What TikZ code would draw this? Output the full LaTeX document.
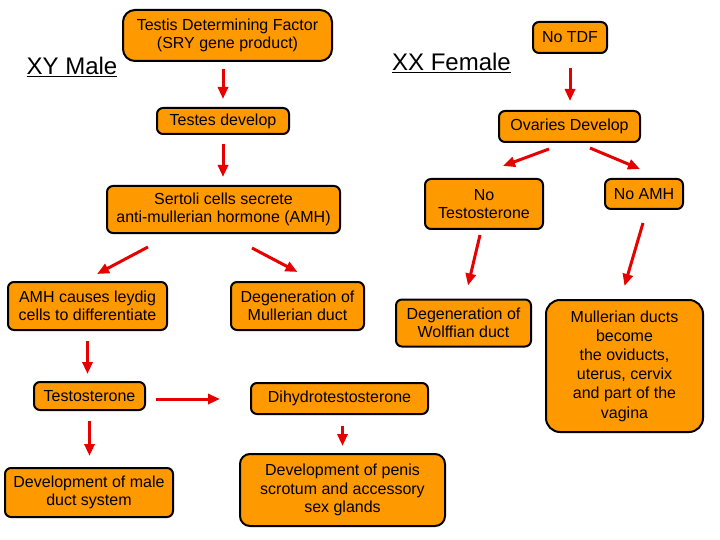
\documentclass[tikz,border=0pt]{standalone}
\usepackage{fontspec}
\setmainfont{Liberation Sans}
\usetikzlibrary{arrows.meta, calc}

\definecolor{boxorange}{RGB}{255,153,0}
\definecolor{arrowred}{RGB}{230,0,0}

\tikzset{
  stage/.style={draw=black, line width=2pt, fill=boxorange, rounded corners=6pt,
    align=center, inner sep=0pt, font=\fontsize{16}{18.5}\selectfont},
  title/.style={font=\fontsize{24}{28}\selectfont},
  flow/.style={draw=arrowred, line width=3pt, -{Triangle[length=12pt,width=10pt]}}
}

\begin{document}
\begin{tikzpicture}[x=1pt, y=-1pt]
\useasboundingbox (0,0) rectangle (720,540);
% Titles
\node[title] (xy) at (72,67) {\underline{XY Male}};
\node[title] (xx) at (451.5,63) {\underline{XX Female}};
% Male side
\node[stage, rounded corners=12pt, minimum width=209pt, minimum height=51pt] (tdf) at (227.5,35.5) {Testis Determining Factor\\(SRY gene product)};
\node[stage, minimum width=132pt, minimum height=26pt] (testes) at (223,121) {Testes develop};
\node[stage, minimum width=233pt, minimum height=47pt] (sertoli) at (223.5,209.5) {Sertoli cells secrete\\anti-mullerian hormone (AMH)};
\node[stage, minimum width=159pt, minimum height=48pt] (leydig) at (87.5,306) {AMH causes leydig\\cells to differentiate};
\node[stage, minimum width=133pt, minimum height=48pt] (degmull) at (297.5,306) {Degeneration of\\Mullerian duct};
\node[stage, minimum width=111pt, minimum height=28pt] (testo) at (89.5,396) {Testosterone};
\node[stage, minimum width=168pt, minimum height=49pt] (maleduct) at (89,492.5) {Development of male\\duct system};
\node[stage, minimum width=177pt, minimum height=31pt] (dht) at (339.5,398.5) {Dihydrotestosterone};
\node[stage, rounded corners=10pt, minimum width=205pt, minimum height=72pt] (penis) at (342.5,490) {Development of penis\\scrotum and accessory\\sex glands};
% Female side
\node[stage, minimum width=74pt, minimum height=31pt] (notdf) at (570,37.5) {No TDF};
\node[stage, minimum width=141pt, minimum height=31pt] (ovaries) at (569.5,126.5) {Ovaries Develop};
\node[stage, minimum width=118pt, minimum height=50pt] (notesto) at (484,204) {No\\Testosterone};
\node[stage, minimum width=78pt, minimum height=30pt] (noamh) at (644,194) {No AMH};
\node[stage, minimum width=135pt, minimum height=47pt] (wolff) at (463.5,323) {Degeneration of\\Wolffian duct};
\node[stage, rounded corners=14pt, minimum width=157pt, minimum height=132pt, font=\fontsize{16}{19.2}\selectfont] (mull) at (624.5,366) {Mullerian ducts\\become\\the oviducts,\\uterus, cervix\\and part of the\\vagina};
% Arrows, male side
\draw[flow, shorten <=7pt, shorten >=8pt] (tdf.south -| testes.north) -- (testes.north);
\draw[flow, shorten <=9pt, shorten >=8pt] (testes.south) -- (testes.south |- sertoli.north);
\draw[flow] ([xshift=-75.5pt,yshift=-13pt]sertoli.south) -- ([xshift=9.5pt,yshift=7pt]leydig.north);
\draw[flow] ([xshift=28.5pt,yshift=-14pt]sertoli.south) -- ([yshift=9pt]degmull.north);
\draw[flow, shorten <=10pt, shorten >=7pt] (leydig.south) -- (leydig.south |- testo.north);
\draw[flow, shorten <=10pt, shorten >=11pt] (testo.south) -- (testo.south |- maleduct.north);
\draw[flow, shorten <=10pt, shorten >=30pt] ([yshift=-3pt]testo.east) -- ([yshift=-3pt]testo.east -| dht.west);
\draw[flow, shorten <=11pt, shorten >=7pt] (dht.south -| penis.north) -- (penis.north);
% Arrows, female side
\draw[flow, shorten <=14pt, shorten >=9pt] (notdf.south) -- (notdf.south |- ovaries.north);
\draw[flow] ([xshift=-20.5pt,yshift=-6pt]ovaries.south) -- ([xshift=19pt,yshift=12pt]notesto.north);
\draw[flow] ([xshift=20.5pt,yshift=-5pt]ovaries.south) -- ([xshift=-4pt,yshift=9pt]noamh.north);
\draw[flow] ([xshift=-4pt,yshift=-5pt]notesto.south) -- ([xshift=4.5pt,yshift=13pt]wolff.north);
\draw[flow] ([xshift=-1pt,yshift=-13pt]noamh.south) -- ([yshift=13pt]mull.north);
\end{tikzpicture}
\end{document}
